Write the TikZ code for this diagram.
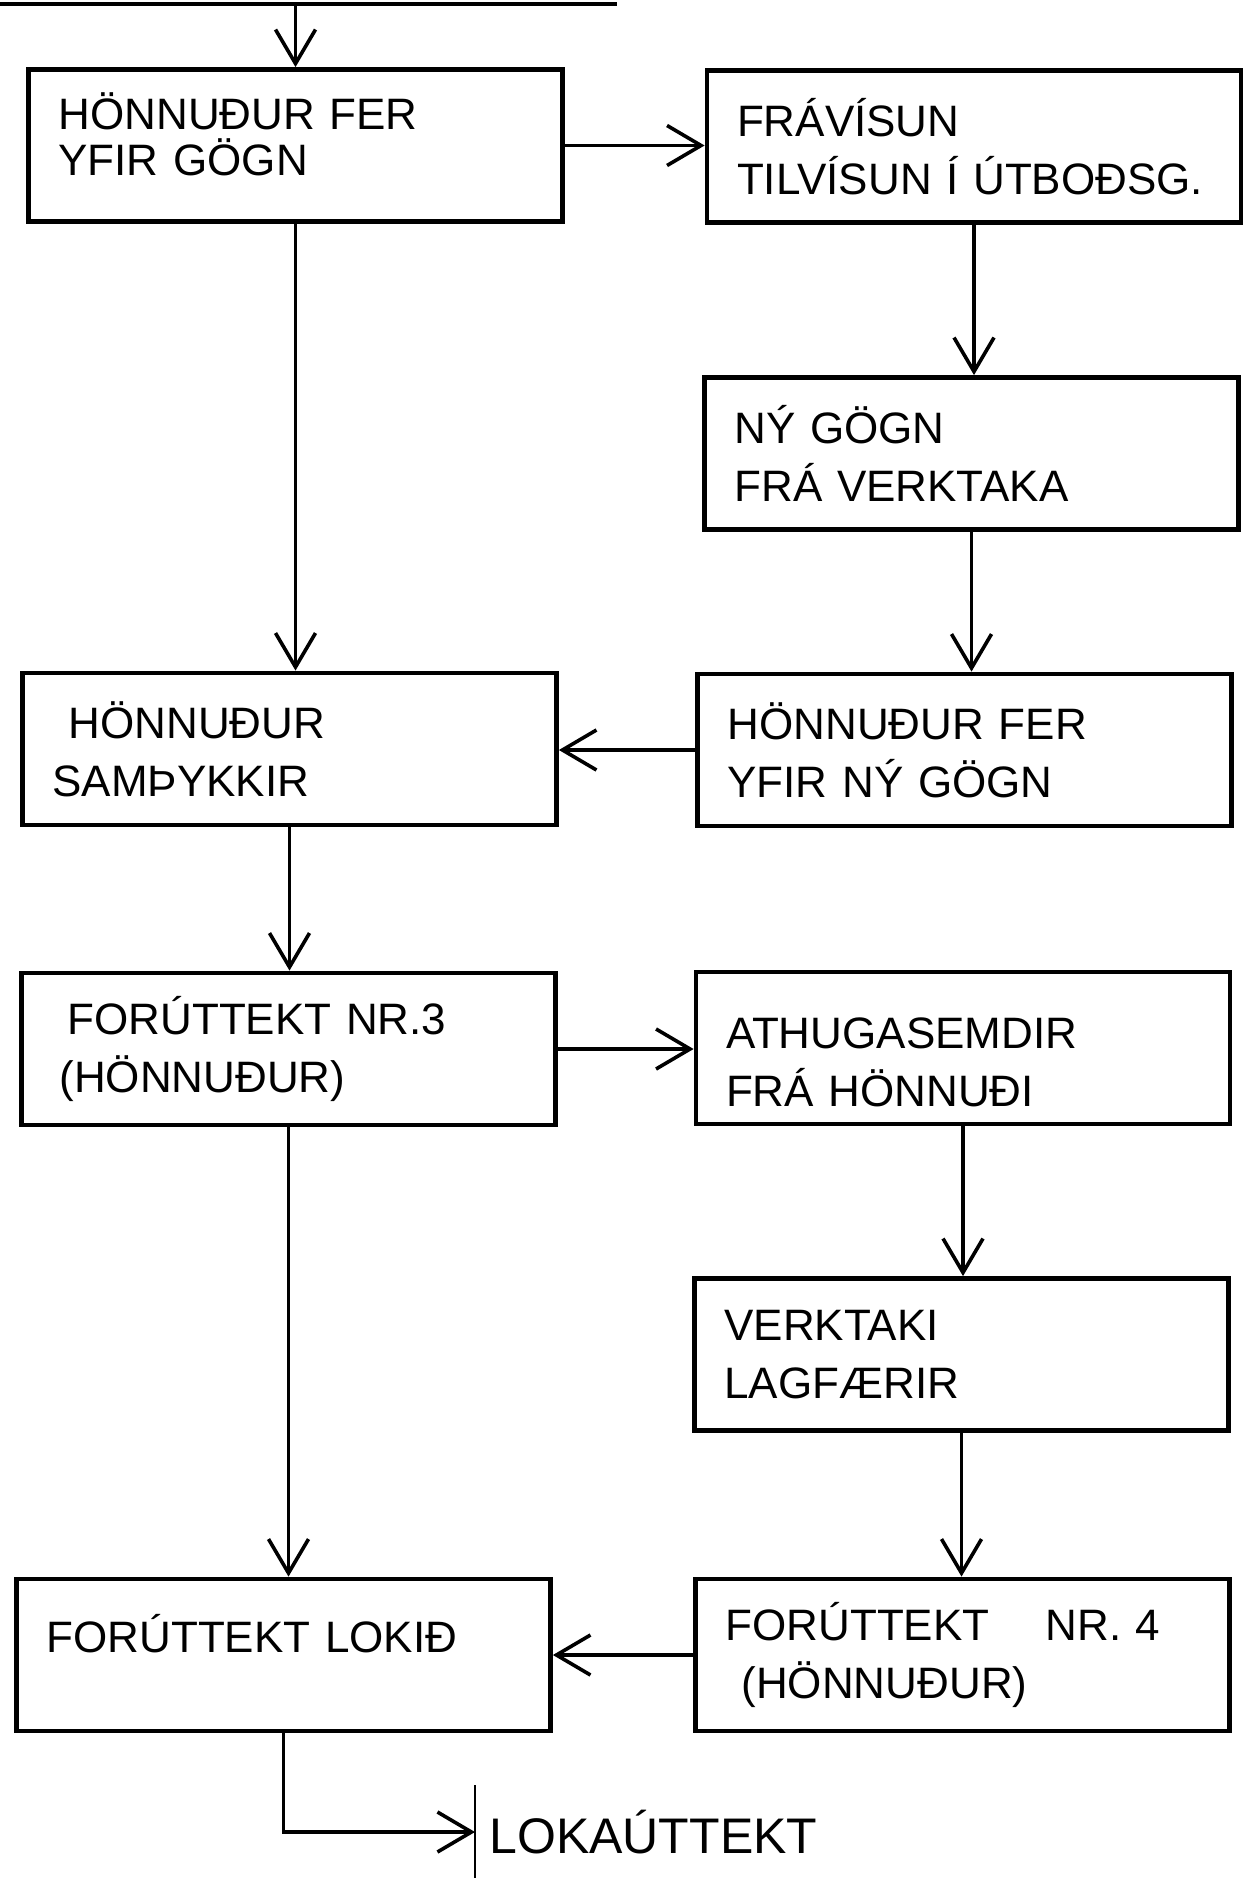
\documentclass[tikz,border=0pt]{standalone}
\usepackage{fontspec}
\setmainfont{Liberation Sans}
\usetikzlibrary{arrows.meta}

\begin{document}
\begin{tikzpicture}[x=0.5pt, y=-0.5pt,
    stepbox/.style={draw, line width=2.4pt, minimum width=267pt, minimum height=76pt,
      text width=237pt, inner xsep=15pt, align=left, font=\fontsize{22}{29}\selectfont},
    flow/.style={line width=1.8pt, -{Straight Barb[length=17pt,width=20pt,line width=1.8pt]}}]
  \useasboundingbox (0,0) rectangle (1242,1878);

  \node[stepbox, text depth=34pt] (hfer) at (295.5,145.5) {HÖNNUÐUR FER\\[-6pt]YFIR GÖGN};
  \node[stepbox] (fravis) at (974,146.5) {FRÁVÍSUN\\TILVÍSUN Í ÚTBOÐSG.};
  \node[stepbox] (nygogn) at (971.5,453.5) {NÝ GÖGN\\FRÁ VERKTAKA};
  \node[stepbox] (hny) at (964.5,750) {HÖNNUÐUR FER\\YFIR NÝ GÖGN};
  \node[stepbox] (hsam) at (289.5,749) {\hspace{8pt}HÖNNUÐUR\\SAMÞYKKIR};
  \node[stepbox] (fnr3) at (288.5,1049) {\hspace{8pt}FORÚTTEKT NR.3\\\hspace{4pt}(HÖNNUÐUR)};
  \node[stepbox] (athug) at (963,1048) {\rule{0pt}{30pt}ATHUGASEMDIR\\FRÁ HÖNNUÐI};
  \node[stepbox] (verkt) at (961.5,1354.5) {VERKTAKI\\LAGFÆRIR};
  \node[stepbox] (fnr4) at (962.5,1655) {FORÚTTEKT\hspace{28pt}NR. 4\\\hspace{8pt}(HÖNNUÐUR)};
  \node[stepbox, text depth=22pt] (lokid) at (283.5,1655) {FORÚTTEKT LOKIÐ};
  \node[anchor=west, minimum height=46.5pt, inner xsep=7pt, font=\fontsize{25}{29}\selectfont] (lok) at (475,1832) {LOKAÚTTEKT};

  \coordinate (inL) at (0,4);
  \coordinate (inR) at (617,4);
  \draw[line width=2.2pt] (inL) -- (inR);
  \draw[flow] (hfer.north |- inL) -- (hfer.north);

  \draw[flow] (hfer.east) -- (hfer.east -| fravis.west);
  \draw[flow] (fravis.south) -- (fravis.south |- nygogn.north);
  \draw[flow] (nygogn.south) -- (nygogn.south |- hny.north);
  \draw[flow] (hny.west) -- (hny.west -| hsam.east);
  \draw[flow] (hfer.south) -- (hfer.south |- hsam.north);
  \draw[flow] (hsam.south) -- (hsam.south |- fnr3.north);
  \draw[flow] (fnr3.east) -- (fnr3.east -| athug.west);
  \draw[flow] (athug.south) -- (athug.south |- verkt.north);
  \draw[flow] (verkt.south) -- (verkt.south |- fnr4.north);
  \draw[flow] (fnr3.south) -- (fnr3.south |- lokid.north);
  \draw[flow] (fnr4.west) -- (fnr4.west -| lokid.east);

  \draw[line width=1.4pt] (lok.north west) -- (lok.south west);
  \draw[flow] (lokid.south) |- (lok.west);
\end{tikzpicture}
\end{document}
